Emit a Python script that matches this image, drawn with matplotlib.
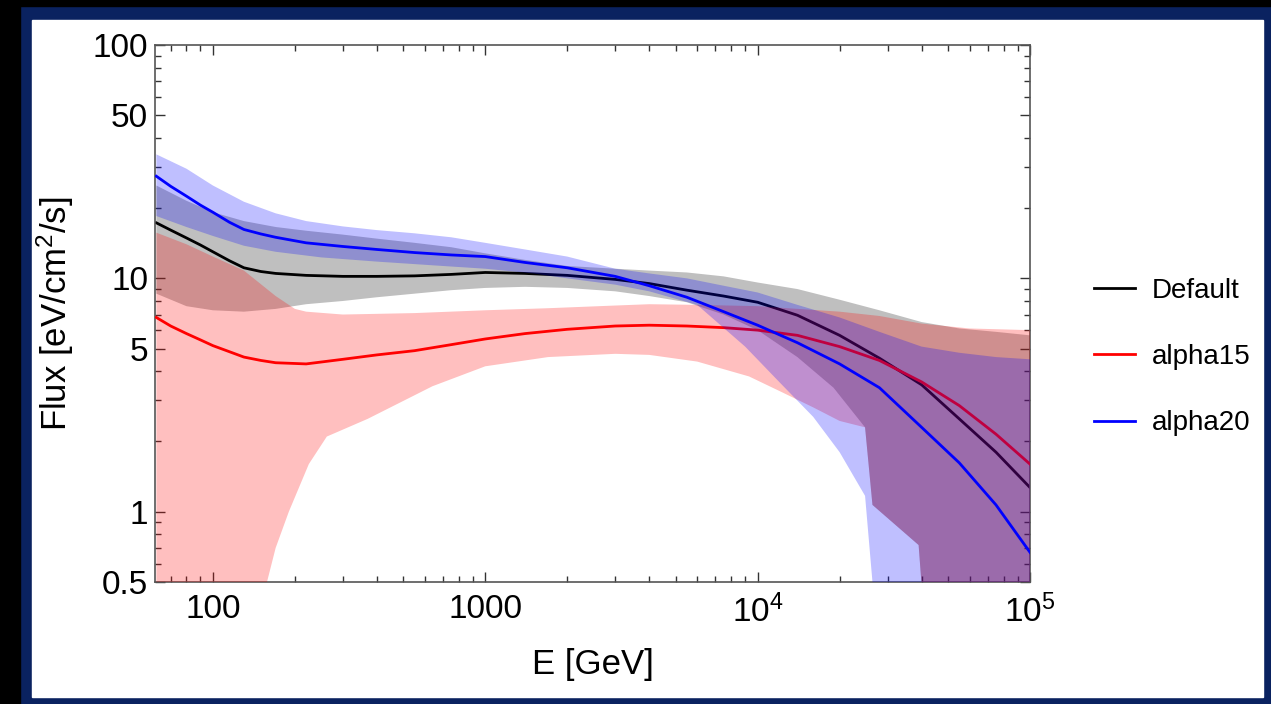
import numpy as np
import matplotlib.pyplot as plt
from matplotlib.patches import Rectangle
from matplotlib.ticker import FixedLocator, NullFormatter

plt.rcParams['font.family'] = ['Liberation Sans', 'DejaVu Sans']
plt.rcParams['mathtext.fontset'] = 'custom'
plt.rcParams['mathtext.rm'] = 'Liberation Sans'
plt.rcParams['mathtext.it'] = 'Liberation Sans:italic'

# central curves, common energy grid [GeV]
E = [62, 70, 80, 90, 100, 115, 130, 150, 170, 220, 300, 400, 550, 750,
     1000, 1400, 2000, 3000, 4000, 5500, 7500, 10000, 14000, 20000, 28000,
     40000, 55000, 75000, 100000]
flux_default = [17.3, 16.1, 14.9, 13.9, 13.0, 11.9, 11.1, 10.7, 10.5, 10.3,
                10.2, 10.2, 10.25, 10.4, 10.6, 10.5, 10.3, 9.9, 9.5, 8.9,
                8.4, 7.9, 6.95, 5.7, 4.55, 3.5, 2.5, 1.8, 1.27]
flux_a15 = [6.8, 6.25, 5.8, 5.45, 5.15, 4.85, 4.6, 4.45, 4.35, 4.3, 4.5,
            4.7, 4.9, 5.2, 5.5, 5.8, 6.05, 6.25, 6.3, 6.25, 6.15, 6.0, 5.7,
            5.1, 4.45, 3.6, 2.85, 2.15, 1.6]
flux_a20 = [27.4, 24.8, 22.5, 20.6, 19.2, 17.4, 16.2, 15.5, 15.0, 14.2,
            13.7, 13.3, 12.9, 12.6, 12.4, 11.7, 11.1, 10.2, 9.3, 8.3, 7.2,
            6.3, 5.3, 4.3, 3.4, 2.3, 1.62, 1.07, 0.67]

# uncertainty bands
E_def_hi = [62, 80, 100, 130, 170, 220, 300, 400, 550, 750, 1000, 1400,
            2000, 3000, 4000, 5500, 7500, 10000, 14000, 20000, 28000, 40000,
            55000, 75000, 100000]
def_hi = [25, 21.5, 19.2, 17.6, 16.6, 16.0, 15.4, 14.8, 14.2, 13.6, 12.8,
          12.0, 11.3, 11.0, 10.8, 10.6, 10.2, 9.6, 9.0, 8.1, 7.3, 6.5, 6.1,
          5.9, 5.7]
E_def_lo = [62, 80, 100, 130, 170, 220, 300, 400, 550, 750, 1000, 1400,
            2000, 3000, 4000, 5500, 7500, 10000, 14000, 19000, 24800, 26400,
            39000, 40500, 100000]
def_lo = [8.6, 7.6, 7.3, 7.2, 7.4, 7.75, 8.0, 8.3, 8.6, 8.9, 9.1, 9.2, 9.1,
          8.8, 8.4, 7.9, 7.0, 6.0, 4.6, 3.4, 2.3, 1.07, 0.72, 0.4, 0.4]

E_a15_hi = [62, 80, 100, 130, 170, 200, 220, 300, 550, 1000, 1700, 3000,
            4000, 6000, 10000, 14000, 20000, 28000, 40000, 60000, 100000]
a15_hi = [15.7, 14.0, 12.4, 10.8, 8.4, 7.4, 7.2, 7.0, 7.1, 7.3, 7.45, 7.65,
          7.75, 7.7, 7.6, 7.4, 7.2, 6.9, 6.4, 6.1, 6.0]
E_a15_lo = [62, 150, 158, 170, 190, 225, 262, 370, 640, 1000, 1700, 3000,
            4000, 6000, 9300, 12300, 16000, 20000, 24800, 26400, 39000,
            40500, 100000]
a15_lo = [0.2, 0.2, 0.5, 0.7, 1.0, 1.6, 2.1, 2.5, 3.45, 4.2, 4.6, 4.75, 4.7,
          4.4, 3.8, 3.25, 2.8, 2.45, 2.3, 1.07, 0.72, 0.4, 0.4]

E_a20_hi = E_def_hi
a20_hi = [34, 29.5, 25, 21.3, 19.0, 17.6, 16.7, 16.1, 15.6, 15.0, 14.2,
          13.3, 12.4, 11.0, 10.5, 10.0, 9.3, 8.7, 7.7, 6.8, 5.9, 5.1, 4.8,
          4.6, 4.5]
E_a20_lo = [62, 80, 100, 130, 170, 250, 400, 700, 1000, 1500, 2000, 3000,
            4000, 6000, 9000, 12000, 16000, 20000, 24800, 26400, 27500,
            100000]
a20_lo = [18.5, 16.6, 15.2, 13.8, 13.0, 12.3, 11.8, 11.3, 11.0, 10.5, 10.0,
          9.4, 8.8, 7.7, 5.1, 3.6, 2.55, 1.8, 1.17, 0.5, 0.2, 0.2]

labels = ["Default", "alpha15", "alpha20"]


def band(ax, e_hi, hi, e_lo, lo, color, z):
    # polygon: upper edge left->right, lower edge right->left
    xs = list(e_hi) + list(e_lo)[::-1]
    ys = list(hi) + list(lo)[::-1]
    ax.fill(xs, ys, color=color, alpha=0.25, lw=0, zorder=z)


W, H = 1271, 704
fig = plt.figure(figsize=(W / 100, H / 100), dpi=100, facecolor="#0a2260")
fig.patches.append(Rectangle((0, 0), 20 / W, 1, transform=fig.transFigure,
                             color="black", zorder=-3))
fig.patches.append(Rectangle((0, 1 - 6 / H), 1, 6 / H,
                             transform=fig.transFigure, color="black",
                             zorder=-3))
fig.patches.append(Rectangle((32 / W, 7 / H), (1263 - 32) / W,
                             (697 - 20) / H, transform=fig.transFigure,
                             color="white", zorder=-2))

ax = fig.add_axes([155 / W, 1 - 582 / H, 875 / W, 537 / H])
ax.set_facecolor("none")

band(ax, E_def_hi, def_hi, E_def_lo, def_lo, "black", 1)
ax.plot(E, flux_default, color="black", lw=2, zorder=2, label=labels[0])
band(ax, E_a15_hi, a15_hi, E_a15_lo, a15_lo, "red", 3)
ax.plot(E, flux_a15, color="red", lw=2, zorder=4, label=labels[1])
band(ax, E_a20_hi, a20_hi, E_a20_lo, a20_lo, "blue", 5)
ax.plot(E, flux_a20, color="blue", lw=2, zorder=6, label=labels[2])

ax.set_xscale("log")
ax.set_yscale("log")
ax.set_xlim(61.3, 1e5)
ax.set_ylim(0.5, 100)

ax.xaxis.set_major_locator(FixedLocator([100, 1000, 1e4, 1e5]))
ax.set_xticklabels(["100", "1000", r"$\mathregular{10^4}$",
                    r"$\mathregular{10^5}$"])
xminor = [m * 10 ** k for k in range(1, 5) for m in range(2, 10)]
ax.xaxis.set_minor_locator(FixedLocator([v for v in xminor if v > 61]))
ax.xaxis.set_minor_formatter(NullFormatter())

ax.yaxis.set_major_locator(FixedLocator([0.5, 1, 5, 10, 50, 100]))
ax.set_yticklabels(["0.5", "1", "5", "10", "50", "100"])
yminor = [0.6, 0.7, 0.8, 0.9, 2, 3, 4, 6, 7, 8, 9, 20, 30, 40, 60, 70, 80, 90]
ax.yaxis.set_minor_locator(FixedLocator(yminor))
ax.yaxis.set_minor_formatter(NullFormatter())

ax.tick_params(which="both", direction="in", top=True, right=True,
               color="#333333", width=1)
ax.tick_params(which="major", length=7, labelsize=24)
ax.tick_params(which="minor", length=4)
ax.tick_params(axis="x", which="major", pad=9)
ax.tick_params(axis="y", which="major", pad=5)
for s in ax.spines.values():
    s.set_color("#555555")
    s.set_linewidth(1.2)

ax.set_xlabel("E [GeV]", fontsize=25, labelpad=14)
ax.set_ylabel("Flux [eV/cm$^2$/s]", fontsize=25, labelpad=12)

ax.legend(loc="center left", bbox_to_anchor=(1.045, 0.419), frameon=False,
          fontsize=20, handlelength=1.47, handletextpad=0.6,
          labelspacing=1.45)

fig.savefig("out.png", dpi=100, facecolor=fig.get_facecolor())
